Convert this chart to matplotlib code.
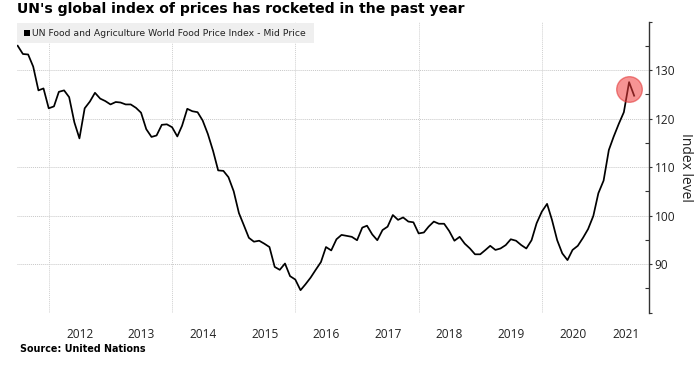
import numpy as np
import pandas as pd
import matplotlib
matplotlib.use("Agg")
import matplotlib.pyplot as plt
from matplotlib.patches import Rectangle
from matplotlib.ticker import FixedLocator, NullFormatter

# ==========================================
#  Data (monthly)
# ==========================================
dates = pd.date_range("2011-06-30", "2021-06-30", freq="ME")
fao_index = [
    135.0, 133.3, 133.2, 130.7, 125.8, 126.2, 122.1, 122.5, 125.5, 125.8,
    124.4, 119.2, 115.9, 122.1, 123.5, 125.3, 124.1, 123.6, 122.9, 123.4,
    123.3, 122.9, 122.9, 122.2, 121.2, 117.8, 116.2, 116.5, 118.7, 118.8,
    118.2, 116.3, 118.5, 122.0, 121.5, 121.3, 119.6, 116.8, 113.3, 109.3,
    109.2, 107.9, 105.0, 100.5, 98.1, 95.4, 94.6, 94.8, 94.2, 93.5,
    89.4, 88.8, 90.1, 87.5, 86.8, 84.6, 85.8, 87.2, 88.8, 90.4,
    93.5, 92.8, 95.1, 96.0, 95.8, 95.6, 94.9, 97.5, 97.9, 96.1,
    94.9, 97.0, 97.7, 100.1, 99.1, 99.6, 98.75, 98.6, 96.3, 96.5,
    97.7, 98.75, 98.3, 98.3, 96.8, 94.8, 95.6, 94.2, 93.2, 92.0,
    92.0, 92.9, 93.75, 92.9, 93.2, 93.9, 95.1, 94.8, 93.9, 93.2,
    94.9, 98.4, 100.8, 102.4, 99.1, 94.9, 92.2, 90.8, 92.9, 93.75,
    95.4, 97.2, 99.9, 104.6, 107.2, 113.5, 116.2, 118.9, 121.3, 127.5,
    124.7,
]
years = [2012, 2013, 2014, 2015, 2016, 2017, 2018, 2019, 2020, 2021]
y_ticks = [90, 100, 110, 120, 130]
highlight_date = "2021-05-31"
highlight_value = 126.1

title = "UN's global index of prices has rocketed in the past year"
legend_label = "UN Food and Agriculture World Food Price Index - Mid Price"
source = "Source: United Nations"

# ==========================================
#  Figure
# ==========================================
W, H = 700, 372
fig = plt.figure(figsize=(W / 100, H / 100), dpi=100)
ax = fig.add_axes([17 / W, 1 - 312.5 / H, (649 - 17) / W, (312.5 - 21.5) / H])

x_left = pd.Timestamp("2011-06-26")
x_right = pd.Timestamp("2021-09-26")
ax.set_xlim(x_left, x_right)
ax.set_ylim(80, 140)

# grid
for yv in [80] + y_ticks:
    ax.axhline(yv, color="#c8c8c8", linestyle=(0, (1, 1)), linewidth=0.7, zorder=1)
for yr in [2012, 2014, 2016, 2018, 2020]:
    ax.axvline(pd.Timestamp(f"{yr}-01-01"), color="#d0d0d0", linestyle=(0, (1, 1)),
               linewidth=0.7, zorder=1)

# series
ax.plot(dates, fao_index, color="black", linewidth=1.25, zorder=3)

# highlight circle
ax.scatter([pd.Timestamp(highlight_date)], [highlight_value], s=340,
           facecolor="#f03c3c", edgecolor="#e03030", alpha=0.55, linewidth=1.0, zorder=4)

# spines
for side in ["left", "top", "bottom"]:
    ax.spines[side].set_visible(False)
ax.spines["right"].set_color("#333333")
ax.spines["right"].set_linewidth(1.0)

# y axis on the right
ax.yaxis.tick_right()
ax.yaxis.set_label_position("right")
ax.yaxis.set_major_locator(FixedLocator([80] + y_ticks + [140]))
ax.set_yticklabels([""] + [str(v) for v in y_ticks] + [""])
ax.yaxis.set_minor_locator(FixedLocator([85, 95, 105, 115, 125, 135]))
ax.yaxis.set_minor_formatter(NullFormatter())
ax.tick_params(axis="y", which="major", direction="out", length=2.5, width=0.8,
               pad=1.5, labelsize=8.6, colors="#333333", labelcolor="#222222")
ax.tick_params(axis="y", which="minor", direction="in", length=3, width=0.8, colors="#333333")
for lab in ax.get_yticklabels():
    lab.set_fontfamily("Open Sans")
ax.set_ylabel("Index level", rotation=-90, fontsize=10, family="Open Sans",
              color="#222222", labelpad=13)

# x labels centred on each (visible part of the) year
xpos = []
for yr in years:
    start = pd.Timestamp(f"{yr}-01-01")
    end = min(pd.Timestamp(f"{yr + 1}-01-01"), x_right)
    xpos.append(start + (end - start) / 2)
ax.set_xticks(xpos)
ax.set_xticklabels([str(y) for y in years], fontsize=8.6, family="Open Sans", color="#222222")
ax.tick_params(axis="x", length=0, pad=11)

# legend box
fig.patches.append(Rectangle((17 / W, 1 - 43.3 / H), (314 - 17) / W, 20.6 / H,
                             transform=fig.transFigure, facecolor="#efefef",
                             edgecolor="none", zorder=5))
fig.patches.append(Rectangle((23.5 / W, 1 - 36.3 / H), 6 / W, 6 / H,
                             transform=fig.transFigure, facecolor="black",
                             edgecolor="none", zorder=6))
fig.text(32.5 / W, 1 - 33.3 / H, legend_label, fontsize=6.7, family="DejaVu Sans",
         color="#222222", ha="left", va="center", zorder=7)

# title / source
fig.text(17 / W, 1 - 13.5 / H, title, fontsize=10.1, fontweight="bold",
         family="DejaVu Sans", color="black", ha="left", va="baseline")
fig.text(20 / W, 1 - 352 / H, source, fontsize=6.9, fontweight="bold",
         family="DejaVu Sans", color="black", ha="left", va="baseline")

fig.savefig("out.png", dpi=100, facecolor="white")
